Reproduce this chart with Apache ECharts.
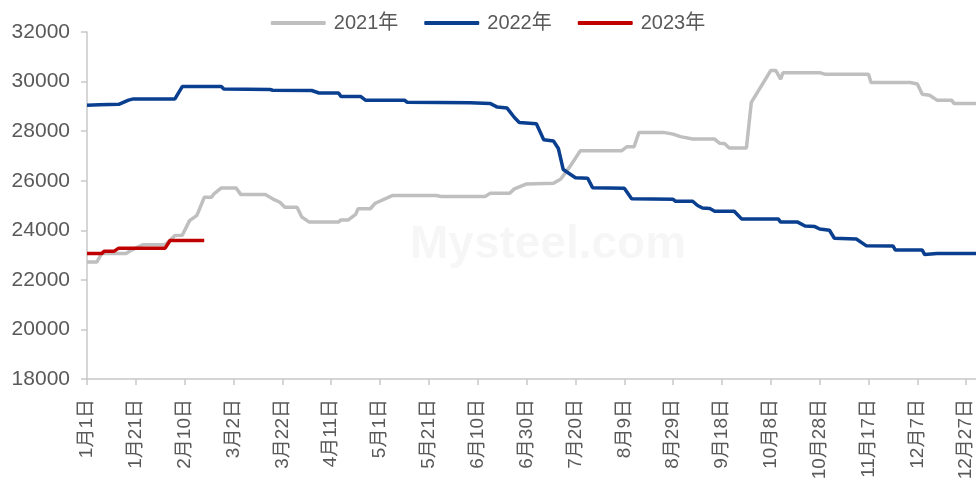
<!DOCTYPE html>
<html>
<head>
<meta charset="utf-8">
<script src="https://cdn.jsdelivr.net/npm/echarts@6/dist/echarts.min.js"></script>
<style>
  html, body { margin: 0; padding: 0; background: #fff; }
  #chart { width: 976px; height: 489px; }
</style>
</head>
<body>
<div id="chart"></div>
<script>
// 月份天数，用来生成 x 轴的日期类目
var monthDays = [31, 28, 31, 30, 31, 30, 31, 31, 30, 31, 30, 31];
var categories = [];
for (var m = 0; m < monthDays.length; m++) {
  for (var d = 1; d <= monthDays[m]; d++) {
    categories.push((m + 1) + '月' + d + '日');
  }
}

var yTicks = [18000, 20000, 22000, 24000, 26000, 28000, 30000, 32000];
var seriesNames = ['2021年', '2022年', '2023年'];

// [第几天, 价格] 转折点
var s2021 = [
  [0, 22720], [4, 22720], [6, 23060], [16, 23060], [18, 23190], [23, 23420], [32, 23420],
  [34, 23600], [36, 23790], [39, 23800], [42, 24390], [45, 24600], [48, 25330], [51, 25330],
  [52, 25470], [55, 25710], [61, 25710], [63, 25440], [73, 25440], [76, 25270], [79, 25130],
  [81, 24930], [86, 24930], [88, 24530], [91, 24330], [103, 24330], [104, 24420], [107, 24420],
  [110, 24640], [111, 24870], [116, 24870], [118, 25090], [125, 25400], [143, 25400],
  [145, 25360], [163, 25360], [165, 25490], [173, 25490], [175, 25670], [177, 25750],
  [180, 25870], [191, 25900], [194, 26070], [198, 26610], [202, 27210], [219, 27210],
  [221, 27370], [224, 27370], [226, 27950], [236, 27950], [240, 27880], [243, 27780],
  [248, 27680], [257, 27680], [259, 27510], [261, 27500], [263, 27320], [270, 27320],
  [272, 29160], [280, 30450], [282, 30450], [284, 30100], [285, 30360], [300, 30360],
  [302, 30300], [320, 30300], [321, 29960], [337, 29960], [340, 29900], [342, 29490],
  [345, 29450], [348, 29250], [354, 29250], [355, 29120], [364, 29120]
];
var s2022 = [
  [0, 29040], [5, 29060], [13, 29080], [17, 29250], [19, 29300], [36, 29300], [39, 29800],
  [55, 29800], [56, 29700], [75, 29680], [76, 29650], [92, 29640], [95, 29540], [103, 29540],
  [104, 29400], [112, 29400], [114, 29250], [130, 29250], [131, 29170], [157, 29150],
  [165, 29120], [168, 28970], [172, 28930], [175, 28550], [177, 28350], [184, 28300],
  [187, 27650], [191, 27600], [193, 27300], [195, 26450], [198, 26250], [200, 26120],
  [205, 26100], [207, 25720], [220, 25700], [223, 25270], [240, 25250], [241, 25170],
  [248, 25170], [250, 25000], [252, 24900], [255, 24880], [257, 24770], [265, 24770],
  [268, 24460], [283, 24460], [284, 24330], [291, 24330], [294, 24170], [298, 24150],
  [300, 24050], [304, 24000], [306, 23680], [315, 23650], [319, 23380], [330, 23370],
  [331, 23200], [342, 23200], [343, 23020], [348, 23060], [364, 23060]
];
var s2023 = [
  [0, 23060], [6, 23060], [7, 23150], [11, 23150], [13, 23280], [32, 23280], [34, 23590], [48, 23590]
];

var colors = ['#BFBFBF', '#0A3F8F', '#C00000'];
var fontFamily = "'Liberation Sans', Arial, 'Noto Sans CJK SC', sans-serif";

var myChart = echarts.init(document.getElementById('chart'));
myChart.setOption({
  animation: false,
  color: colors,
  textStyle: { fontFamily: fontFamily },
  legend: {
    top: 8,
    left: 'center',
    itemWidth: 55,
    itemHeight: 4,
    itemGap: 26,
    icon: 'roundRect',
    data: seriesNames,
    textStyle: { fontSize: 20, color: '#595959', fontFamily: fontFamily, padding: [0, 0, 0, 3] }
  },
  graphic: [{
    type: 'text',
    left: 410,
    top: 222,
    silent: true,
    style: {
      text: 'Mysteel.com',
      font: "bold 46px 'Liberation Sans', Arial, sans-serif",
      fill: 'rgba(0,0,0,0.035)'
    }
  }],
  grid: { left: 87, top: 32, width: 896, height: 347 },
  xAxis: {
    type: 'category',
    data: categories,
    boundaryGap: false,
    axisLine: { lineStyle: { color: '#C8C8C8', width: 1.5 } },
    axisTick: { show: true, interval: 19, length: 6, lineStyle: { color: '#C8C8C8', width: 1.5 } },
    axisLabel: {
      interval: 19,
      rotate: 90,
      margin: 20,
      fontSize: 19,
      color: '#595959',
      fontFamily: fontFamily
    }
  },
  yAxis: {
    type: 'value',
    min: yTicks[0],
    max: yTicks[yTicks.length - 1],
    interval: 2000,
    axisLine: { show: true, lineStyle: { color: '#C8C8C8', width: 1.5 } },
    axisTick: { show: true, length: 6, lineStyle: { color: '#C8C8C8', width: 1.5 } },
    splitLine: { show: false },
    axisLabel: {
      fontSize: 21,
      color: '#595959',
      margin: 17,
      fontFamily: fontFamily,
      formatter: function (v) { return String(v); }
    }
  },
  series: [
    { name: seriesNames[0], type: 'line', symbol: 'none', data: s2021, lineStyle: { width: 3.5 } },
    { name: seriesNames[1], type: 'line', symbol: 'none', data: s2022, lineStyle: { width: 3.5 } },
    { name: seriesNames[2], type: 'line', symbol: 'none', data: s2023, lineStyle: { width: 3.5 } }
  ]
});
</script>
</body>
</html>
